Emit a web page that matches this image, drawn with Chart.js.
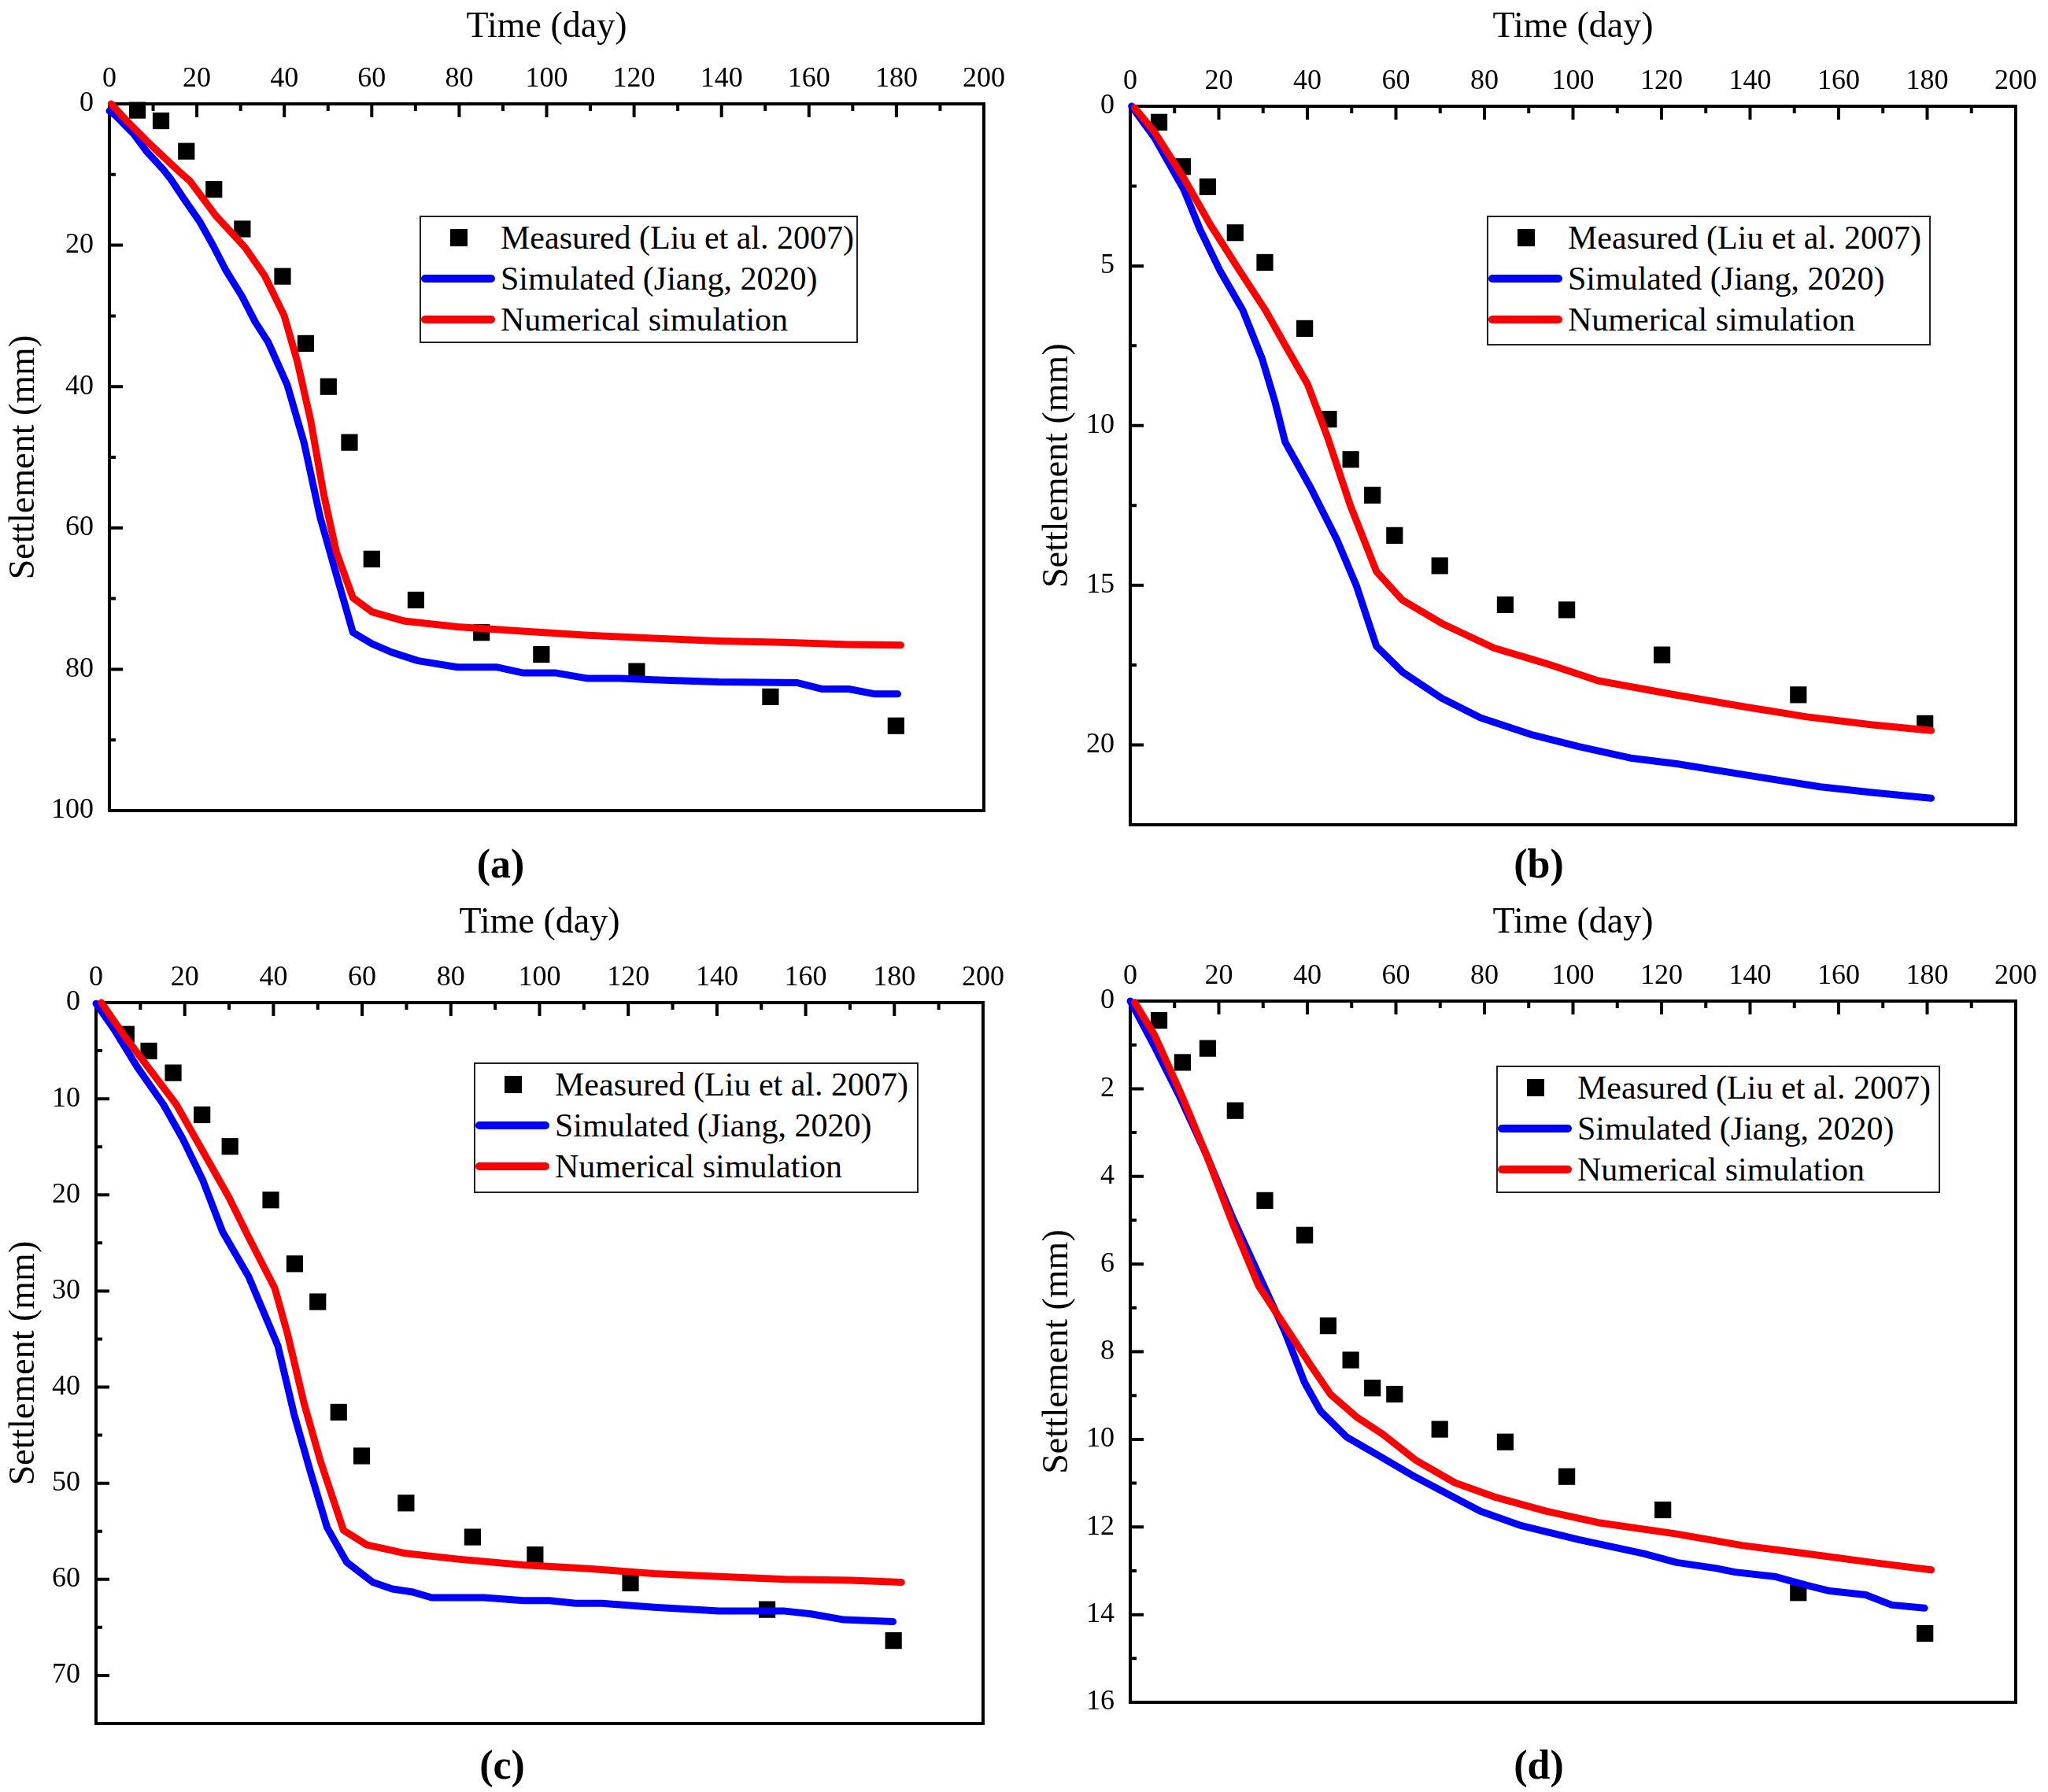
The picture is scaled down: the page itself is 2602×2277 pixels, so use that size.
<!DOCTYPE html>
<html lang="en">
  <head>
    <meta charset="UTF-8" />
    <title>Settlement vs time</title>
    <script src="https://cdn.jsdelivr.net/npm/chart.js@4.4.1/dist/chart.umd.min.js"></script>
    <style>
      body { margin: 0; background: #fff; }
      #page { position: relative; width: 2602px; height: 2277px; background: #fff; overflow: hidden; }
      .panel { position: absolute; width: 1301px; height: 1138px; }
      .panel canvas { position: absolute; left: 0; top: 0; }
      .legend { position: absolute; box-sizing: border-box; border: 2px solid #222; background: #fff;
                font-family: 'Liberation Serif', 'Times New Roman', serif; font-size: 42px; color: #000; }
      .row { position: absolute; left: 0; width: 100%; height: 52px; line-height: 52px; white-space: nowrap; }
      .row .txt { position: absolute; left: 101px; top: 0; }
      .sq { position: absolute; left: 37px; top: 15px; width: 22px; height: 22px; background: #000; }
      .ln { position: absolute; left: 0px; top: 21px; width: 94px; height: 10px; border-radius: 5px; }
      .cap { position: absolute; width: 200px; text-align: center; height: 60px; line-height: 60px;
             font-family: 'Liberation Serif', 'Times New Roman', serif; font-weight: bold; font-size: 52px; color: #000; }
    </style>
  </head>
  <body>
    <div id="page"></div>

  <script>
    // (a)
    const measDayA = [6.4, 11.8, 17.6, 23.9, 30.4, 39.6, 44.9, 50.1, 54.9, 60.0, 70.1, 85.1, 98.8, 120.6, 151.2, 179.9];
    const measSetA = [0.9, 2.4, 6.7, 12.1, 17.7, 24.4, 33.9, 40.0, 47.9, 64.4, 70.2, 74.8, 77.9, 80.3, 83.9, 88.0];
    const jiangDayA = [0, 1.5, 5.6, 8.6, 12.2, 14.0, 16.9, 20.6, 23.6, 26.6, 30.3, 33.3, 36.3, 40.7, 44.5, 48.2, 51.9,
      55.7, 60.1, 64.6, 70.6, 79.6, 88.5, 94.5, 101.9, 109.4, 116.9, 124.3, 139.3, 157.2, 163.1, 169.1, 175.1, 180.3];
    const jiangSetA = [1.0, 1.7, 4.3, 6.8, 9.2, 10.6, 13.3, 16.6, 19.9, 23.5, 27.2, 30.8, 33.7, 39.8, 47.9, 58.5, 66.6,
      74.8, 76.4, 77.6, 78.8, 79.7, 79.7, 80.5, 80.5, 81.3, 81.3, 81.5, 81.8, 81.9, 82.8, 82.8, 83.5, 83.5];
    const numDayA = [0.4, 3.8, 9.8, 15.8, 18.4, 24.3, 31.0, 35.5, 40.0, 43.0, 46.0, 49.0, 51.9, 55.7, 60.1, 67.6,
      79.6, 94.5, 109.4, 124.3, 139.3, 154.2, 169.1, 181.0];
    const numSetA = [0, 2.3, 6.0, 9.5, 10.9, 15.8, 20.3, 24.3, 30.0, 36.5, 44.7, 55.2, 63.4, 69.9, 71.9, 73.2,
      74.0, 74.6, 75.2, 75.6, 76.0, 76.2, 76.5, 76.6];

    // (b)
    const measDayB = [6.5, 11.8, 17.5, 23.7, 30.4, 39.4, 44.8, 49.8, 54.7, 59.7, 69.9, 84.7, 98.6, 120.1, 150.9, 179.5];
    const measSetB = [0.50, 1.89, 2.52, 3.96, 4.89, 6.96, 9.80, 11.06, 12.18, 13.44, 14.39, 15.61, 15.77, 17.18, 18.43, 19.33];
    const jiangDayB = [0.3, 5.5, 12.1, 15.8, 20.2, 25.4, 29.8, 32.7, 35.0, 40.8, 46.7, 51.1, 55.6, 61.5, 70.3, 79.1,
      90.9, 101.3, 113.0, 123.4, 138.1, 155.8, 167.6, 180.9];
    const jiangSetB = [0, 0.99, 2.61, 3.87, 5.13, 6.38, 7.91, 9.26, 10.52, 11.96, 13.58, 15.02, 16.91, 17.72, 18.53, 19.15,
      19.69, 20.05, 20.41, 20.59, 20.92, 21.31, 21.49, 21.67];
    const numDayB = [1.0, 5.5, 12.1, 18.0, 24.6, 30.5, 34.9, 40.1, 44.5, 49.7, 55.6, 61.5, 70.3, 82.1, 93.9, 105.7,
      123.4, 138.1, 152.8, 167.6, 180.9];
    const numSetB = [0.05, 0.81, 2.25, 3.69, 5.13, 6.38, 7.46, 8.72, 10.34, 12.50, 14.57, 15.47, 16.19, 16.96, 17.45, 17.99,
      18.44, 18.79, 19.12, 19.37, 19.55];

    // (c)
    const measDayC = [6.8, 11.9, 17.4, 23.9, 30.2, 39.4, 44.8, 50.0, 54.7, 59.9, 69.9, 84.9, 99.0, 120.5, 151.3, 179.8];
    const measSetC = [3.29, 5.03, 7.30, 11.67, 14.96, 20.53, 27.17, 31.12, 42.61, 47.16, 52.06, 55.60, 57.45, 60.38, 63.14, 66.37];
    const jiangDayC = [0, 4.1, 9.3, 15.2, 19.6, 24.0, 28.5, 34.4, 41.0, 44.7, 48.4, 52.1, 56.5, 62.4, 66.8, 71.2, 75.7,
      87.5, 96.3, 102.2, 108.1, 114.0, 125.8, 140.5, 155.3, 161.2, 168.6, 179.7];
    const jiangSetC = [0.1, 2.8, 6.7, 10.6, 14.2, 18.4, 23.8, 28.5, 35.7, 42.9, 48.9, 54.6, 58.2, 60.3, 61.0, 61.3, 61.9,
      61.9, 62.2, 62.2, 62.5, 62.5, 62.9, 63.3, 63.3, 63.6, 64.2, 64.4];
    const numDayC = [1.2, 6.3, 12.2, 18.1, 24.0, 29.9, 34.4, 40.3, 43.2, 46.9, 50.6, 55.8, 61.0, 69.8, 81.6, 96.3,
      111.1, 125.8, 140.5, 155.3, 170.1, 181.6];
    const numSetC = [0, 3.4, 7.0, 10.6, 15.4, 20.2, 24.4, 29.7, 34.5, 41.7, 47.7, 54.9, 56.4, 57.3, 57.9, 58.5,
      58.9, 59.4, 59.7, 60.0, 60.1, 60.3];

    // (d)
    const measDayD = [6.5, 11.8, 17.5, 23.7, 30.4, 39.4, 44.7, 49.8, 54.7, 59.7, 69.9, 84.7, 98.6, 120.3, 150.9, 179.5];
    const measSetD = [0.44, 1.40, 1.08, 2.50, 4.55, 5.34, 7.41, 8.19, 8.83, 8.97, 9.77, 10.06, 10.85, 11.61, 13.50, 14.43];
    const jiangDayD = [0, 5.5, 11.3, 17.2, 23.1, 29.0, 34.9, 39.4, 43.0, 48.9, 55.6, 64.4, 79.1, 88.0, 101.3, 116.0,
      123.4, 132.2, 136.6, 145.5, 152.8, 158.0, 166.1, 172.0, 179.4];
    const jiangSetD = [0, 1.04, 2.21, 3.51, 4.94, 6.24, 7.54, 8.71, 9.36, 9.95, 10.34, 10.86, 11.64, 11.96, 12.29, 12.61,
      12.81, 12.94, 13.03, 13.13, 13.33, 13.46, 13.55, 13.78, 13.85];
    const numDayD = [1.0, 5.5, 11.3, 17.2, 23.1, 29.0, 34.9, 40.8, 45.2, 51.1, 57.0, 64.4, 73.3, 82.1, 93.9, 105.7,
      123.4, 138.1, 152.8, 167.6, 180.9];
    const numSetD = [0.03, 0.78, 2.08, 3.51, 5.07, 6.50, 7.41, 8.32, 8.97, 9.49, 9.88, 10.47, 10.99, 11.31, 11.64, 11.90,
      12.16, 12.42, 12.61, 12.81, 12.98];

    const labelMeas = 'Measured (Liu et al. 2007)';
    const labelJiang = 'Simulated (Jiang, 2020)';
    const labelNum = 'Numerical simulation';
    const titleX = 'Time (day)';
    const titleY = 'Settlement (mm)';
  </script>

  <script>
    const SERIF = "'Liberation Serif', 'Times New Roman', serif";

    // 坐标框 + 向内的刻度线
    const frameTicks = {
      id: 'frameTicks',
      beforeDatasetsDraw(chart, args, o) {
        const { ctx, chartArea: a, scales: { x, y } } = chart;
        ctx.save();
        ctx.strokeStyle = '#000';
        ctx.lineWidth = 4;
        ctx.strokeRect(a.left, a.top, a.right - a.left, a.bottom - a.top);
        ctx.lineCap = 'butt';
        ctx.lineWidth = 4;
        ctx.beginPath();
        for (let i = 1; i * o.xStep / 2 < x.max - 1e-6; i++) {
          const px = x.getPixelForValue(i * o.xStep / 2);
          ctx.moveTo(px, a.top);
          ctx.lineTo(px, a.top + (i % 2 === 0 ? 17 : 9));
        }
        for (let i = 1; i * o.yStep / 2 < y.max - 1e-6; i++) {
          const py = y.getPixelForValue(i * o.yStep / 2);
          ctx.moveTo(a.left, py);
          ctx.lineTo(a.left + (i % 2 === 0 ? 17 : 8), py);
        }
        ctx.stroke();
        ctx.restore();
      }
    };

    function pts(xs, ys) {
      return xs.map((v, i) => ({ x: v, y: ys[i] }));
    }

    function makePanel(p) {
      const page = document.getElementById('page');
      const box = document.createElement('div');
      box.className = 'panel';
      box.style.left = p.ox + 'px';
      box.style.top = p.oy + 'px';
      const cv = document.createElement('canvas');
      cv.width = 1301;
      cv.height = 1138;
      box.appendChild(cv);
      page.appendChild(box);

      new Chart(cv, {
        type: 'line',
        data: {
          datasets: [
            {
              label: labelNum, data: pts(p.numDay, p.numSet),
              borderColor: '#ff0000', borderWidth: 9, pointRadius: 0, fill: false, tension: 0,
              borderCapStyle: 'round', borderJoinStyle: 'round',
              clip: false, order: 1
            },
            {
              label: labelJiang, data: pts(p.jiangDay, p.jiangSet),
              borderColor: '#0000ff', borderWidth: 9, pointRadius: 0, fill: false, tension: 0,
              borderCapStyle: 'round', borderJoinStyle: 'round',
              clip: false, order: 2
            },
            {
              label: labelMeas, data: pts(p.measDay, p.measSet),
              showLine: false, pointStyle: 'rect', pointRadius: 15, pointBorderWidth: 0,
              pointBackgroundColor: '#000', pointBorderColor: '#000',
              clip: false, order: 3
            }
          ]
        },
        options: {
          responsive: false,
          animation: false,
          devicePixelRatio: 1,
          events: [],
          layout: { padding: { left: 0, top: 0, right: p.padR, bottom: p.padB } },
          plugins: {
            legend: { display: false },
            tooltip: { enabled: false },
            frameTicks: { xStep: 20, yStep: p.yStep }
          },
          scales: {
            x: {
              type: 'linear', position: 'top', min: 0, max: 200,
              ticks: { stepSize: 20, color: '#000', font: { family: SERIF, size: 36 }, padding: 10, maxRotation: 0, autoSkip: false },
              grid: { display: false, drawTicks: false },
              border: { display: false },
              title: { display: true, text: titleX, color: '#000', font: { family: SERIF, size: 46 }, padding: { top: 7, bottom: 0 } },
              afterFit(s) { s.height = p.top; }
            },
            y: {
              type: 'linear', position: 'left', reverse: true, min: 0, max: p.yMax,
              ticks: { stepSize: p.yStep, includeBounds: false, color: '#000', font: { family: SERIF, size: 36 }, padding: 20, autoSkip: false },
              grid: { display: false, drawTicks: false },
              border: { display: false },
              title: { display: true, text: titleY, color: '#000', font: { family: SERIF, size: 46 }, padding: { top: p.yTitlePad, bottom: 0 } },
              afterFit(s) { s.width = p.left; }
            }
          }
        },
        plugins: [frameTicks]
      });

      // 图例
      const lg = document.createElement('div');
      lg.className = 'legend';
      lg.style.left = p.lg[0] + 'px';
      lg.style.top = p.lg[1] + 'px';
      lg.style.width = p.lg[2] + 'px';
      lg.style.height = p.lg[3] + 'px';
      const rows = [
        ['<div class="sq"></div>', labelMeas],
        ['<div class="ln" style="background:#0000ff"></div>', labelJiang],
        ['<div class="ln" style="background:#ff0000"></div>', labelNum]
      ];
      rows.forEach((r, i) => {
        const row = document.createElement('div');
        row.className = 'row';
        row.style.top = (i * 52) + 'px';
        row.innerHTML = r[0] + '<span class="txt"></span>';
        row.querySelector('.txt').textContent = r[1];
        lg.appendChild(row);
      });
      box.appendChild(lg);

      // 子图编号
      const cap = document.createElement('div');
      cap.className = 'cap';
      cap.style.left = (p.cap[0] - 100) + 'px';
      cap.style.top = (p.cap[1] - 30) + 'px';
      cap.textContent = p.name;
      box.appendChild(cap);
    }

    makePanel({ name: '(a)', ox: 0, oy: 0, left: 139, top: 132, padR: 51, padB: 108, yMax: 100, yStep: 20, yTitlePad: 3,
      measDay: measDayA, measSet: measSetA, jiangDay: jiangDayA, jiangSet: jiangSetA, numDay: numDayA, numSet: numSetA,
      lg: [533, 274, 557, 162], cap: [636, 1098] });
    makePanel({ name: '(b)', ox: 1301, oy: 0, left: 135, top: 135, padR: 41, padB: 90, yMax: 22.5, yStep: 5, yTitlePad: 15,
      measDay: measDayB, measSet: measSetB, jiangDay: jiangDayB, jiangSet: jiangSetB, numDay: numDayB, numSet: numSetB,
      lg: [588, 274, 564, 165], cap: [654, 1098] });
    makePanel({ name: '(c)', ox: 0, oy: 1138, left: 122, top: 136, padR: 52, padB: 86, yMax: 75, yStep: 10, yTitlePad: 3,
      measDay: measDayC, measSet: measSetC, jiangDay: jiangDayC, jiangSet: jiangSetC, numDay: numDayC, numSet: numSetC,
      lg: [602, 212, 565, 166], cap: [638, 1105] });
    makePanel({ name: '(d)', ox: 1301, oy: 1138, left: 135, top: 134, padR: 41, padB: 113, yMax: 16, yStep: 2, yTitlePad: 15,
      measDay: measDayD, measSet: measSetD, jiangDay: jiangDayD, jiangSet: jiangSetD, numDay: numDayD, numSet: numSetD,
      lg: [600, 216, 564, 162], cap: [654, 1105] });
  </script>
</html>
